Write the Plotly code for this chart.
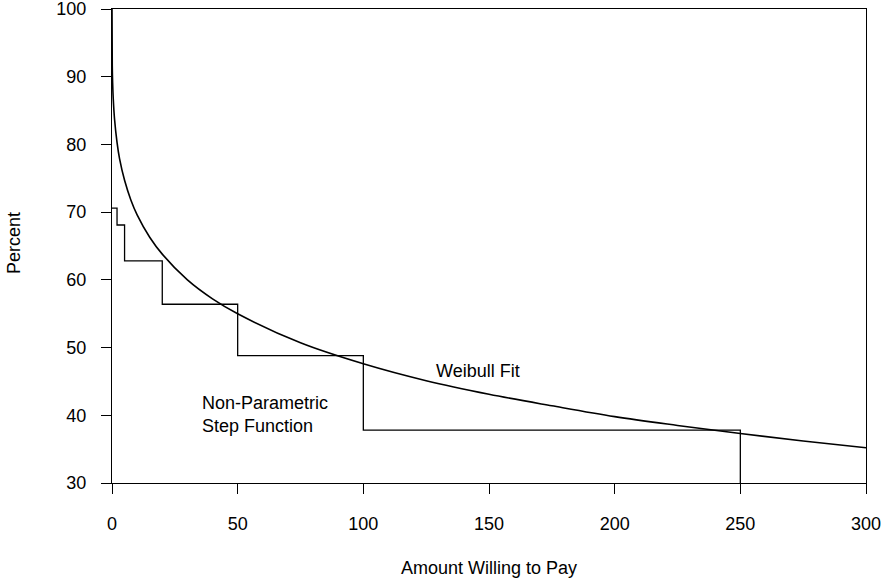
import plotly.graph_objects as go

# Non-parametric step function
step_x = [0, 2, 5, 20, 50, 100, 250]
step_y = [70.6, 68.1, 62.8, 56.4, 48.8, 37.8, 30]

# Weibull fit curve
fit_x = [0, 0.1, 0.25, 0.5, 1, 2, 3, 5, 7.5, 10, 15, 20, 30, 40, 50, 75, 100,
         125, 150, 175, 200, 225, 250, 275, 300]
fit_y = [100, 91.7, 89.1, 86.7, 83.8, 80.3, 77.9, 74.7, 71.8, 69.6, 66.3, 63.8,
         60.0, 57.2, 55.0, 50.7, 47.6, 45.1, 43.1, 41.4, 39.8, 38.5, 37.3, 36.2, 35.2]

x_ticks = [0, 50, 100, 150, 200, 250, 300]
y_ticks = [30, 40, 50, 60, 70, 80, 90, 100]

FONT = "Liberation Sans, Arial, sans-serif"
FS = 18

L, R, T, B = 112, 23, 9, 100
W, H = 889, 583
PW, PH = W - L - R, H - T - B

fig = go.Figure()
fig.add_trace(go.Scatter(x=step_x, y=step_y, mode="lines", line_shape="hv",
                         line=dict(color="black", width=1.3), showlegend=False,
                         hoverinfo="skip"))
fig.add_trace(go.Scatter(x=fit_x, y=fit_y, mode="lines", line_shape="spline",
                         line=dict(color="black", width=1.6), showlegend=False,
                         hoverinfo="skip"))

fig.add_annotation(x=128, y=46.5, text="Weibull Fit", showarrow=False,
                   xanchor="left", yanchor="middle",
                   font=dict(family=FONT, size=FS, color="black"))
fig.add_annotation(x=35, y=40.1, text="Non-Parametric<br>Step Function",
                   showarrow=False, xanchor="left", yanchor="middle", align="left",
                   font=dict(family=FONT, size=FS, color="black"))

# axis titles
fig.add_annotation(xref="paper", yref="paper", x=0.5, y=-(568 - (H - B)) / PH,
                   text="Amount Willing to Pay", showarrow=False,
                   xanchor="center", yanchor="middle",
                   font=dict(family=FONT, size=FS, color="black"))
fig.add_annotation(xref="paper", yref="paper", x=(14 - L) / PW, y=1 - (243 - T) / PH,
                   text="Percent", showarrow=False, textangle=-90,
                   xanchor="center", yanchor="middle",
                   font=dict(family=FONT, size=FS, color="black"))

axis_common = dict(showline=True, linecolor="black", linewidth=1.3, mirror=True,
                   ticks="outside", ticklen=10, tickwidth=1.3, tickcolor="black",
                   showgrid=False, zeroline=False, automargin=False,
                   ticklabeloverflow="allow",
                   tickfont=dict(family=FONT, size=FS, color="black"))

fig.update_xaxes(range=[0, 300], tickvals=x_ticks, ticklabelstandoff=14, **axis_common)
fig.update_yaxes(range=[30, 100], tickvals=y_ticks, ticklabelstandoff=11, **axis_common)

fig.update_layout(width=W, height=H, plot_bgcolor="white", paper_bgcolor="white",
                  margin=dict(l=L, r=R, t=T, b=B),
                  font=dict(family=FONT, size=FS, color="black"))

fig.write_html("out.html", config={"displayModeBar": False},
               post_script="document.body.style.margin='0px';")
